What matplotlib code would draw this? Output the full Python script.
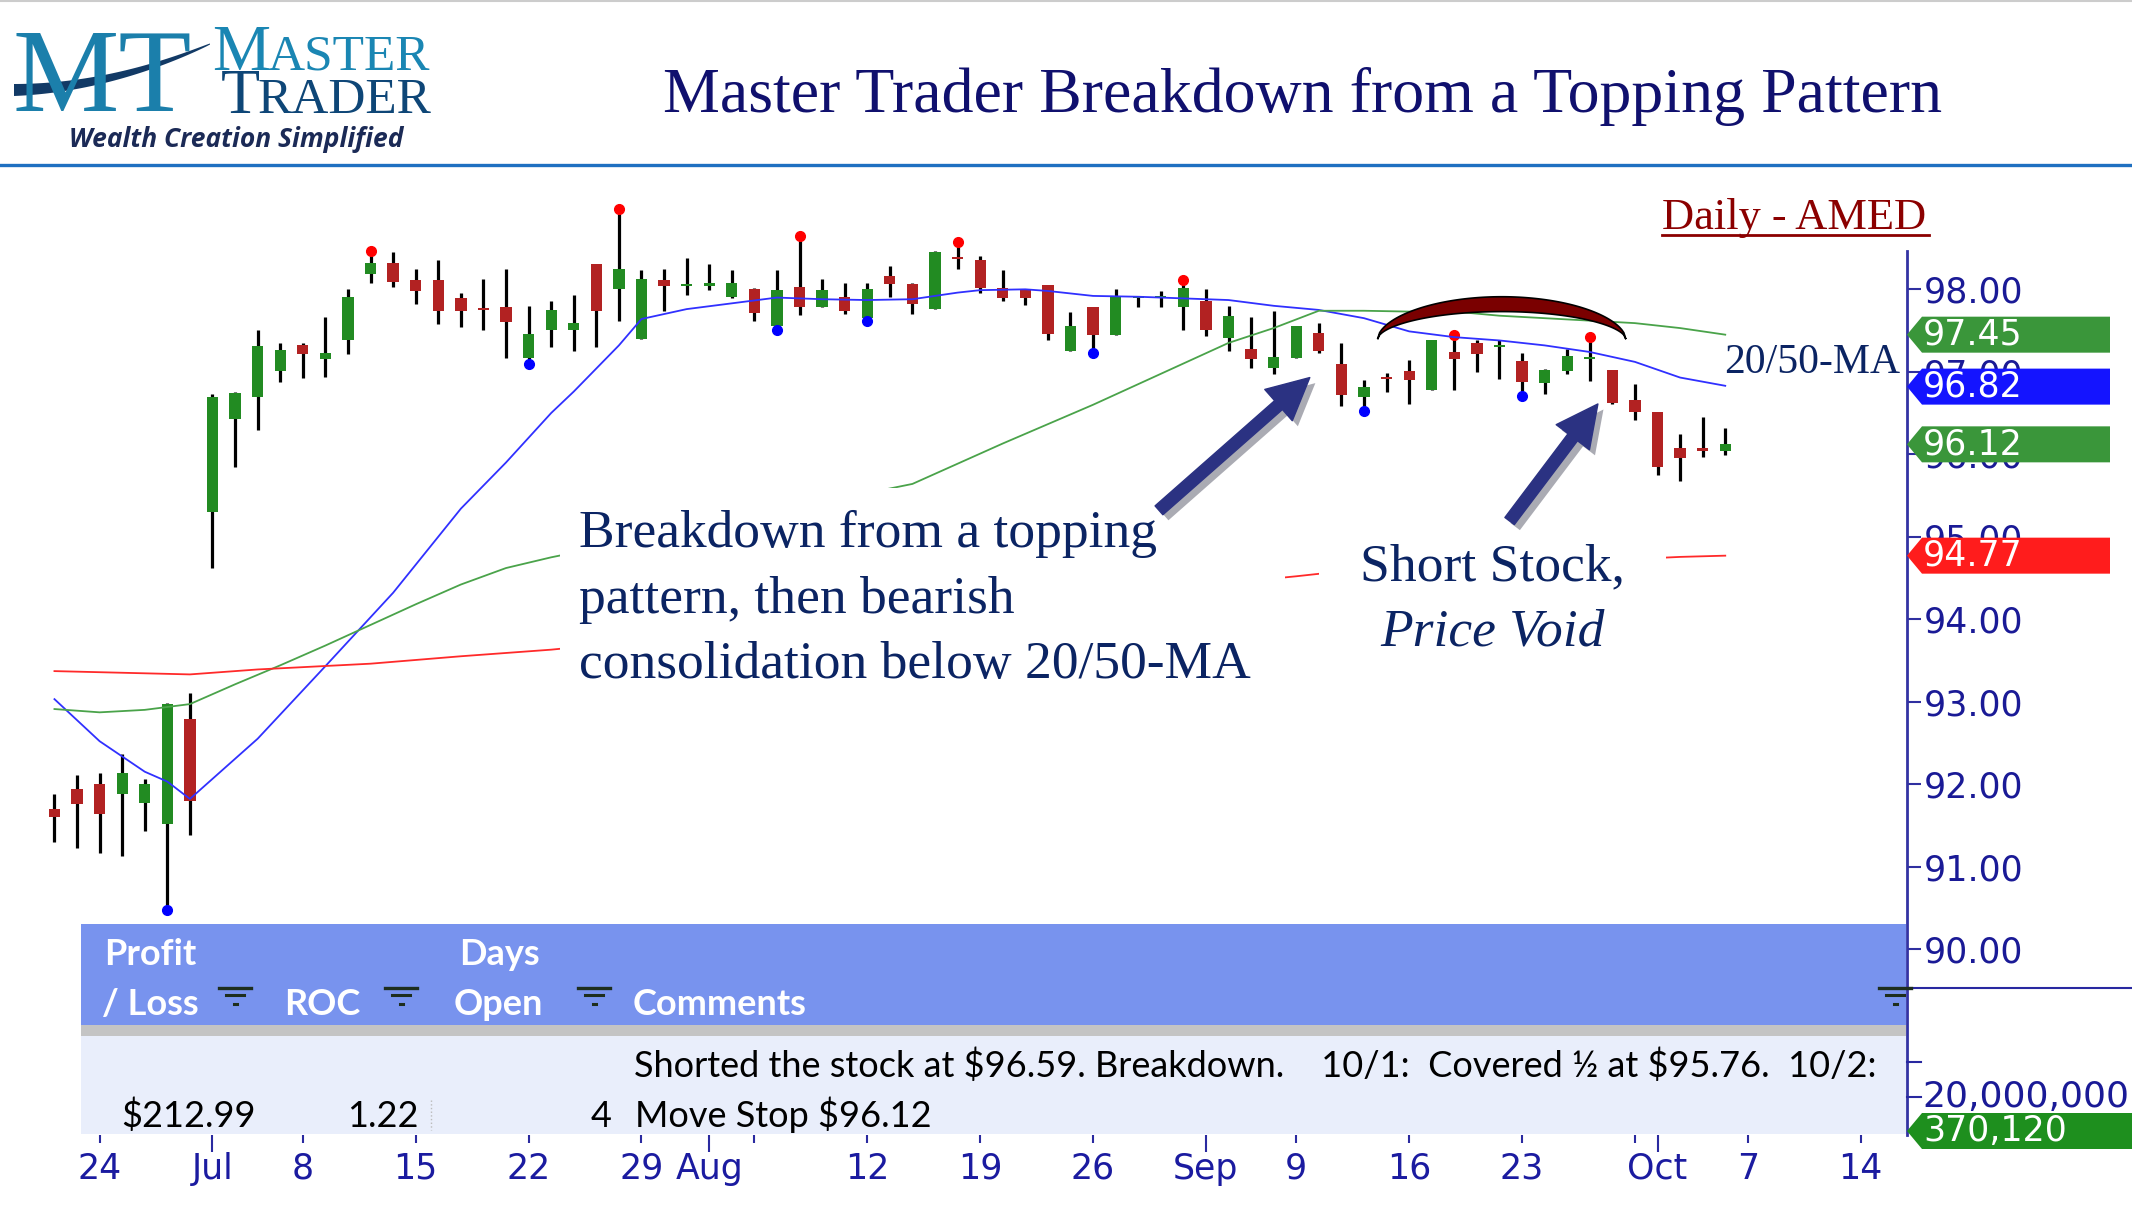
import numpy as np
import matplotlib
matplotlib.use("Agg")
import matplotlib.pyplot as plt
import matplotlib.transforms as mtransforms
import matplotlib.patheffects as pe
from matplotlib.patches import Rectangle, Polygon, FancyArrowPatch
from matplotlib.lines import Line2D

# trading-day index, 0 = Mon 24 Jun (Jul 4 and Labor Day skipped)
days = list(range(-2, 73))

opens = [91.70, 91.94, 92.00, 91.88, 91.77, 91.52, 92.79,
         95.30, 96.43, 96.69, 97.01, 97.32, 97.16, 97.38, 98.18, 98.32, 98.11,
         98.11, 97.89, 97.755, 97.78, 97.17, 97.51, 97.51, 98.31, 98.00, 97.40,
         98.11, 98.045, 98.04, 97.91, 98.00, 97.55, 98.03, 97.79, 97.91, 97.65,
         98.16, 98.06, 97.76, 98.375, 98.36, 98.01, 98.00, 98.05, 97.25, 97.78,
         97.44, 97.90, 97.90, 97.78, 97.86, 97.41, 97.28, 97.05, 97.17, 97.47,
         97.10, 96.70, 96.925, 97.01, 96.78, 97.24, 97.35, 97.30, 97.13, 96.86,
         97.01, 97.15, 97.02, 96.66, 96.51, 96.08, 96.055, 96.04]
highs = [91.88, 92.11, 92.13, 92.37, 92.06, 92.98, 93.11,
         96.73, 96.75, 97.51, 97.35, 97.35, 97.67, 98.00, 98.44, 98.45, 98.25,
         98.36, 97.96, 98.13, 98.25, 97.80, 97.86, 97.93, 98.31, 98.94, 98.24,
         98.25, 98.38, 98.31, 98.24, 98.01, 98.24, 98.62, 98.12, 98.08, 98.08,
         98.28, 98.08, 98.46, 98.54, 98.41, 98.24, 98.00, 98.05, 97.72, 97.78,
         98.00, 97.92, 97.98, 98.08, 98.00, 97.80, 97.67, 97.74, 97.56, 97.59,
         97.35, 96.90, 96.98, 97.14, 97.39, 97.42, 97.38, 97.39, 97.23, 97.03,
         97.28, 97.39, 97.02, 96.85, 96.51, 96.25, 96.45, 96.32]
lows = [91.30, 91.23, 91.16, 91.13, 91.43, 90.50, 91.38,
        94.62, 95.85, 96.29, 96.88, 96.92, 96.94, 97.22, 98.08, 98.03, 97.82,
        97.58, 97.54, 97.51, 97.17, 97.12, 97.30, 97.25, 97.30, 97.62, 97.40,
        97.74, 97.93, 97.99, 97.90, 97.62, 97.54, 97.69, 97.79, 97.70, 97.64,
        97.91, 97.70, 97.76, 98.25, 97.95, 97.86, 97.81, 97.38, 97.25, 97.26,
        97.44, 97.79, 97.79, 97.51, 97.43, 97.25, 97.05, 96.97, 97.17, 97.23,
        96.58, 96.56, 96.75, 96.61, 96.78, 96.78, 97.00, 96.91, 96.74, 96.73,
        96.97, 96.89, 96.61, 96.42, 95.75, 95.67, 95.97, 95.99]
closes = [91.60, 91.76, 91.64, 92.13, 92.00, 92.97, 91.80,
          96.69, 96.74, 97.31, 97.26, 97.21, 97.23, 97.91, 98.32, 98.09, 97.98,
          97.74, 97.74, 97.745, 97.60, 97.46, 97.75, 97.59, 97.74, 98.25, 98.12,
          98.04, 98.055, 98.08, 98.08, 97.71, 97.99, 97.79, 97.99, 97.74, 98.00,
          98.06, 97.82, 98.45, 98.365, 98.01, 97.90, 97.89, 97.46, 97.56, 97.44,
          97.92, 97.91, 97.92, 98.02, 97.51, 97.68, 97.15, 97.18, 97.55, 97.25,
          96.72, 96.81, 96.915, 96.90, 97.38, 97.15, 97.21, 97.31, 96.87, 97.02,
          97.19, 97.16, 96.62, 96.51, 95.84, 95.95, 96.045, 96.12]

swing_high_days = [12, 23, 31, 38, 48, 60, 66]
swing_low_days = [3, 19, 30, 34, 44, 56, 63]

ma20_days = [-2, 0, 2, 3, 4, 7, 10, 13, 16, 18, 20, 21, 23, 24, 25, 26, 28, 30, 32, 34,
             36, 38, 39, 41, 42, 44, 46, 48, 50, 52, 54, 56, 58, 60, 62, 64, 66, 68, 70, 72]
ma20 = [93.03, 92.52, 92.15, 92.03, 91.82, 92.55, 93.43, 94.32, 95.34, 95.90,
        96.50, 96.76, 97.32, 97.64, 97.70, 97.76, 97.83, 97.90, 97.88, 97.87,
        97.88, 97.96, 97.99, 98.00, 97.98, 97.92, 97.91, 97.89, 97.87, 97.80,
        97.75, 97.65, 97.49, 97.42, 97.38, 97.32, 97.24, 97.12, 96.93, 96.83]
ma50_days = [-2, 0, 2, 4, 6, 8, 10, 12, 14, 16, 18, 20,
             36, 40, 44, 48, 50, 52, 54, 56, 58, 60, 62, 64, 66, 68, 70, 72]
ma50 = [92.91, 92.87, 92.90, 92.97, 93.21, 93.44, 93.68, 93.93, 94.18, 94.42, 94.62, 94.75,
        95.64, 96.13, 96.60, 97.10, 97.35, 97.53, 97.74, 97.74, 97.73, 97.73, 97.68, 97.65,
        97.62, 97.59, 97.53, 97.45]
ma200_days = [-2, 4, 7, 12, 16, 20, 53, 54, 70, 72]
ma200 = [93.37, 93.33, 93.39, 93.46, 93.55, 93.63, 94.52, 94.55, 94.755, 94.77]

price_ticks = [90, 91, 92, 93, 94, 95, 96, 97, 98]
tag_values = [97.45, 96.82, 96.12, 94.77]
tag_colors = ["#3a963a", "#1414ff", "#3a963a", "#ff1c1c"]

week_days = [0, 9, 14, 19, 24, 29, 34, 39, 44, 53, 58, 63, 68, 73, 78]
week_labels = ["24", "8", "15", "22", "29", "", "12", "19", "26", "9", "16", "23", "", "7", "14"]
month_days = [5, 27, 49, 69]
month_labels = ["Jul", "Aug", "Sep", "Oct"]

W, H = 2132, 1220
fig = plt.figure(figsize=(W / 100, H / 100), dpi=100)


def fx(x):
    return x / W


def fy(y):
    return 1 - y / H


SERIF = "Liberation Serif"
NAVY = "#0b2463"

# header
fig.add_artist(Line2D([0, 1], [fy(1), fy(1)], color="#cccccc", lw=1.5))
fig.add_artist(Line2D([0, 1], [fy(165), fy(165)], color="#1f70c1", lw=2.4))
fig.text(fx(1303), fy(96), "Master Trader Breakdown from a Topping Pattern", ha="center", va="center",
         fontsize=46, family=SERIF, color="#10106e")

# logo
fig.text(fx(12), fy(111), "MT", fontsize=86, family=SERIF, color="#1b7fab", va="baseline")
t = np.linspace(0, 1, 80)
cx = (1 - t) ** 2 * 14 + 2 * (1 - t) * t * 110 + t ** 2 * 210
cy = (1 - t) ** 2 * 90 + 2 * (1 - t) * t * 88 + t ** 2 * 44
th = 11 * (1 - t) ** 0.7 + 1
sw = np.concatenate([np.c_[fx(cx), fy(cy - th / 2)], np.c_[fx(cx), fy(cy + th / 2)][::-1]])
fig.add_artist(Polygon(sw, closed=True, facecolor="#123a66", edgecolor="none"))
fig.text(fx(212), fy(70), "M", fontsize=47, family=SERIF, color="#1a86b3", va="baseline")
fig.text(fx(267), fy(70), "ASTER", fontsize=37, family=SERIF, color="#1a86b3", va="baseline")
fig.text(fx(221), fy(113), "T", fontsize=46, family=SERIF, color="#0e4677", va="baseline")
fig.text(fx(258), fy(113), "RADER", fontsize=37, family=SERIF, color="#0e4677", va="baseline")
fig.text(fx(69), fy(147), "Wealth Creation Simplified", fontsize=19, family="Open Sans",
         weight="bold", style="italic", color="#1b2a56", va="baseline")

# price pane
ax = fig.add_axes([fx(40), fy(988), fx(1907) - fx(40), fy(170) - fy(988)])
ax.set_xlim(-2.64, 80.05)
ax.set_ylim(89.527, 99.447)
ax.patch.set_alpha(0)
for s in ax.spines.values():
    s.set_visible(False)
ax.set_xticks([])
ax.yaxis.tick_right()
ax.set_yticks(price_ticks)
ax.set_yticklabels([f"{v:.2f}" for v in price_ticks])
ax.tick_params(axis="y", direction="out", length=10, width=1.5, color="#2f2fa0",
               labelcolor="#1a1a96", labelsize=25, pad=2)

o = np.array(opens)
c = np.array(closes)
up = c >= o
ax.vlines(days, lows, highs, color="black", lw=2.3, zorder=2)
ax.bar(days, np.maximum(np.abs(c - o), 0.025), bottom=np.minimum(o, c), width=0.5,
       color=np.where(up, "#228b22", "#b22222"), edgecolor="none", zorder=3)

hd = np.array(swing_high_days) + 2
ld = np.array(swing_low_days) + 2
ax.plot(swing_high_days, np.array(highs)[hd] + 0.03, "o", color="#ff0000", ms=7, zorder=4)
ax.plot(swing_low_days, np.array(lows)[ld] - 0.03, "o", color="#0000ff", ms=7, zorder=4)

ax.plot(ma20_days, ma20, color="#3030ff", lw=1.3, zorder=4)
ax.plot(ma50_days, ma50, color="#4aa34a", lw=1.3, zorder=4)
ax.plot(ma200_days, ma200, color="#ff2a2a", lw=1.3, zorder=4)

# white note boxes
ax.add_patch(Rectangle((fx(560), fy(700)), fx(1285) - fx(560), fy(488) - fy(700),
                       transform=fig.transFigure, facecolor="white", edgecolor="none", zorder=5))
ax.add_patch(Rectangle((fx(1319), fy(690)), fx(1666) - fx(1319), fy(535) - fy(690),
                       transform=fig.transFigure, facecolor="white", edgecolor="none", zorder=5))

for ytxt, line in zip([534, 600, 665], ["Breakdown from a topping", "pattern, then bearish",
                                         "consolidation below 20/50-MA"]):
    ax.text(fx(579), fy(ytxt), line, transform=fig.transFigure, fontsize=38.5, family=SERIF,
            color=NAVY, va="center", ha="left", zorder=6)
ax.text(fx(1492), fy(567), "Short Stock,", transform=fig.transFigure, fontsize=38.5, family=SERIF,
        color=NAVY, va="center", ha="center", zorder=6)
ax.text(fx(1492), fy(632), "Price Void", transform=fig.transFigure, fontsize=38.5, family=SERIF,
        style="italic", color=NAVY, va="center", ha="center", zorder=6)

# arrows
for tail, head in [((46.92, 95.32), (53.6, 96.93)), ((62.45, 95.19), (66.36, 96.61))]:
    arr = FancyArrowPatch(tail, head, arrowstyle="simple,head_length=30,head_width=30,tail_width=8.5",
                          mutation_scale=1, color="#2b3282", shrinkA=0, shrinkB=0, zorder=7,
                          path_effects=[pe.SimplePatchShadow(offset=(4, -4), alpha=0.35), pe.Normal()])
    ax.add_patch(arr)

# topping arc
u = np.linspace(-1, 1, 120)
ax_x = 62.1 + 5.5 * u
outer = 97.395 + 0.515 * (1 - u ** 2) ** 0.55
inner = 97.395 + 0.335 * (1 - u ** 2) ** 0.55
crescent = np.concatenate([np.c_[ax_x, outer], np.c_[ax_x, inner][::-1]])
ax.add_patch(Polygon(crescent, closed=True, facecolor="#7a0000", edgecolor="black", lw=1.2, zorder=5))

# labels on the chart
fig.text(fx(1662), fy(229), "Daily - AMED", fontsize=32, family=SERIF, color="#8b0000", va="baseline")
fig.add_artist(Line2D([fx(1662), fx(1929)], [fy(235), fy(235)], color="#8b0000", lw=2))
fig.text(fx(1724), fy(373), "20/50-MA", fontsize=30, family=SERIF, color=NAVY, va="baseline")

# right axis line and volume pane marks
fig.add_artist(Line2D([fx(1907)] * 2, [fy(251), fy(1135)], color="#3333a3", lw=2))
fig.add_artist(Line2D([fx(1907), 1], [fy(988)] * 2, color="#2828a0", lw=1.5))
for yv in [1062, 1097]:
    fig.add_artist(Line2D([fx(1907), fx(1921)], [fy(yv)] * 2, color="#2828a0", lw=1.5))
fig.text(fx(1922), fy(1097), "20,000,000", fontsize=26, color="#1a1a96", va="center")

# price tags
bt = mtransforms.blended_transform_factory(fig.transFigure, ax.transData)
hh = 18 / 82.46
for val, col in zip(tag_values, tag_colors):
    verts = [(fx(1907), val), (fx(1922), val + hh), (fx(2110), val + hh),
             (fx(2110), val - hh), (fx(1922), val - hh)]
    fig.add_artist(Polygon(verts, closed=True, transform=bt, facecolor=col, edgecolor="none", zorder=2.5))
    fig.text(fx(1923), val, f"{val:.2f}", transform=bt, fontsize=25, color="white", va="center", zorder=3)

vol_verts = [(fx(1907), fy(1131)), (fx(1922), fy(1113)), (1, fy(1113)), (1, fy(1149)), (fx(1922), fy(1149))]
fig.add_artist(Polygon(vol_verts, closed=True, facecolor="#1e8f1e", edgecolor="none", zorder=2.5))
fig.text(fx(1923), fy(1131), "370,120", fontsize=25, color="white", va="center", zorder=3)

# date axis
vax = fig.add_axes([fx(40), fy(1135), fx(1907) - fx(40), fy(988) - fy(1135)])
vax.set_xlim(-2.64, 80.05)
vax.set_ylim(0, 1)
vax.patch.set_alpha(0)
for s in vax.spines.values():
    s.set_visible(False)
vax.set_yticks([])
vax.set_xticks(month_days, month_labels)
vax.set_xticks(week_days, week_labels, minor=True)
vax.tick_params(axis="x", which="major", length=12, width=1.5, color="#2a2aa0",
                labelcolor="#1b1ba0", labelsize=25, pad=0)
vax.tick_params(axis="x", which="minor", length=6, width=1.5, color="#2a2aa0",
                labelcolor="#1b1ba0", labelsize=25, pad=6)

# trade table overlay
TF = "Lato"
fig.add_artist(Rectangle((fx(81), fy(1025)), fx(1906) - fx(81), fy(924) - fy(1025),
                         facecolor="#7893ee", edgecolor="none"))
fig.add_artist(Rectangle((fx(81), fy(1036)), fx(1906) - fx(81), fy(1025) - fy(1036),
                         facecolor="#c4c4c4", edgecolor="none"))
fig.add_artist(Rectangle((fx(81), fy(1134)), fx(1906) - fx(81), fy(1036) - fy(1134),
                         facecolor="#e9eefb", edgecolor="none"))
for xx, yy, s in [(104, 965, "Profit"), (102, 1015, "/ Loss"), (284, 1015, "ROC"),
                  (459, 965, "Days"), (454, 1015, "Open"), (633, 1015, "Comments")]:
    fig.text(fx(xx), fy(yy), s, fontsize=26, family=TF, weight="bold", color="white", va="baseline")
for xc in [235, 401, 594, 1895]:
    fig.add_artist(Line2D([fx(xc - 16), fx(xc + 16)], [fy(988)] * 2, color="#1e2e1e", lw=2.4))
    fig.add_artist(Line2D([fx(xc - 9), fx(xc + 9)], [fy(995)] * 2, color="#1e2e1e", lw=2.2))
    fig.add_artist(Line2D([fx(xc - 1.5), fx(xc + 1.5)], [fy(1004)] * 2, color="#1e2e1e", lw=2.2))
fig.text(fx(634), fy(1077),
         "Shorted the stock at \\$96.59. Breakdown.    10/1:  Covered \u00bd at \\$95.76.  10/2:",
         fontsize=26, family=TF, color="black", va="baseline")
fig.text(fx(256), fy(1127), "\\$212.99", fontsize=26, family=TF, color="black", va="baseline", ha="right")
fig.text(fx(419), fy(1127), "1.22", fontsize=26, family=TF, color="black", va="baseline", ha="right")
fig.text(fx(612), fy(1127), "4", fontsize=26, family=TF, color="black", va="baseline", ha="right")
fig.text(fx(635), fy(1127), "Move Stop \\$96.12", fontsize=26, family=TF, color="black", va="baseline")
fig.add_artist(Line2D([fx(431)] * 2, [fy(1100), fy(1130)], color="#bbbbbb", lw=1, ls=":"))

fig.savefig("out.png", dpi=100)
